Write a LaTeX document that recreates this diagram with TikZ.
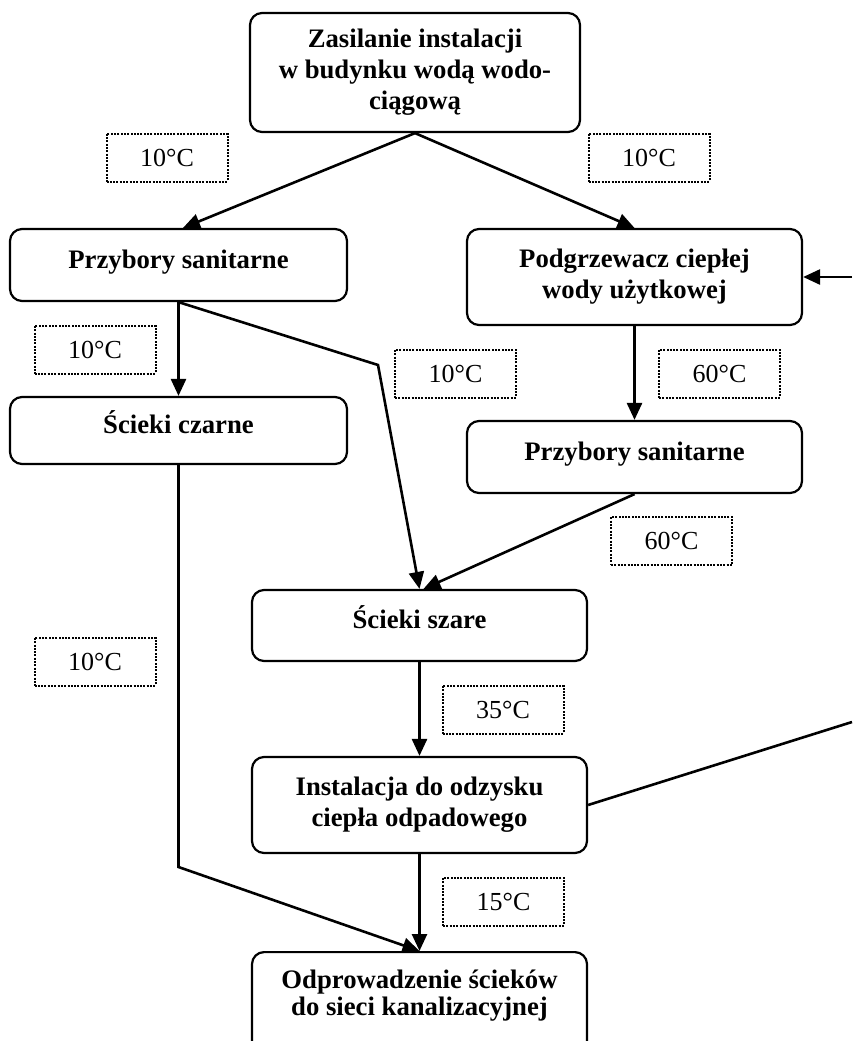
\documentclass[tikz,border=0pt]{standalone}
\usepackage{fontspec}
\setmainfont{Liberation Serif}
\usetikzlibrary{arrows.meta,positioning}

\tikzset{
  blok/.style={draw, line width=2.2pt, rounded corners=12pt, align=center, inner sep=0pt,
    minimum width=335pt, font=\fontsize{26.7}{31}\selectfont\bfseries},
  jeden/.style={text height=19pt, text depth=13pt},
  temp/.style={draw, dash pattern=on 2pt off 1.3pt, line width=2pt, inner sep=0pt,
    minimum width=121pt, minimum height=48pt, font=\fontsize{26}{30}\selectfont},
  strz/.style={line width=2.6pt, -{Triangle[length=17pt,width=15pt]}},
  lin/.style={line width=2.6pt}
}

\begin{document}
\begin{tikzpicture}[x=1pt, y=-1pt]
  \useasboundingbox (0,0) rectangle (852,1041);
  % boxes of the water flow
  \node[blok, minimum width=330pt, minimum height=119pt] (zas) at (415,72.5) {Zasilanie instalacji\\w budynku wodą wodo-\\ciągową};
  \node[blok, jeden, minimum width=337pt, minimum height=72pt] (przL) at (178.5,265) {Przybory sanitarne};
  \node[blok, minimum height=96pt] (podg) at (634.5,277) {Podgrzewacz ciepłej\\wody użytkowej};
  \node[blok, jeden, minimum width=337pt, minimum height=67pt] (czarne) at (178.5,430.5) {Ścieki czarne};
  \node[blok, jeden, minimum height=72pt] (przP) at (634.5,457) {Przybory sanitarne};
  \node[blok, jeden, minimum height=71pt] (szare) at (419.5,625.5) {Ścieki szare};
  \node[blok, minimum height=96pt] (odzysk) at (419.5,805) {Instalacja do odzysku\\ciepła odpadowego};
  \node[blok, anchor=north, inner ysep=18pt, text depth=60pt, font=\fontsize{26.7}{27}\selectfont\bfseries] (odpr) at (419.5,951) {Odprowadzenie ścieków\\do sieci kanalizacyjnej};
  % temperatures
  \node[temp] (t1) at (167,157.5) {10°C};
  \node[temp] (t2) at (649,157.5) {10°C};
  \node[temp] (t3) at (95,349.5) {10°C};
  \node[temp] (t4) at (455.5,373.5) {10°C};
  \node[temp] (t5) at (719.5,373.5) {60°C};
  \node[temp] (t6) at (671.5,541) {60°C};
  \node[temp] (t7) at (95,661.5) {10°C};
  \node[temp] (t8) at (503,709.5) {35°C};
  \node[temp] (t9) at (503.5,901.5) {15°C};
  % bends and loose ends
  \coordinate (zgiecie) at (378,365);
  \coordinate (zgiecie2) at (178.5,867);
  \coordinate (zwrot) at (852,277);
  \coordinate (powrot) at (852,722);
  % connectors
  \draw[strz] (zas.south) -- ([xshift=4.5pt]przL.north);
  \draw[strz] (zas.south) -- (podg.north);
  \draw[strz] (zwrot) -- (podg.east);
  \draw[strz] (przL.south) -- (czarne.north);
  \draw[strz] (przL.south) -- (zgiecie) -- (szare.north);
  \draw[strz] (podg.south) -- (przP.north);
  \draw[strz] (przP.south) -- ([xshift=4pt]szare.north);
  \draw[strz] (szare.south) -- (odzysk.north);
  \draw[lin] (odzysk.east) -- (powrot);
  \draw[strz] (odzysk.south) -- (odpr.north);
  \draw[strz] (czarne.south) -- (zgiecie2) -- (odpr.north);
\end{tikzpicture}
\end{document}
